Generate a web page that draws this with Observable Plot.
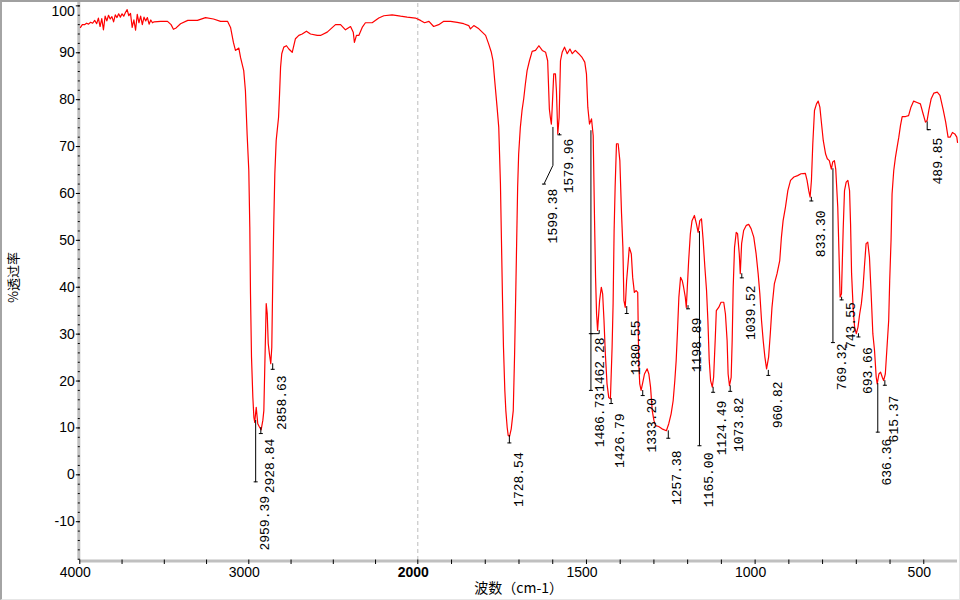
<!DOCTYPE html>
<html>
<head>
<meta charset="utf-8">
<script src="https://cdn.jsdelivr.net/npm/d3@7"></script>
<script src="https://cdn.jsdelivr.net/npm/@observablehq/plot@0.6"></script>
<style>
  html, body { margin: 0; padding: 0; background: #fff; }
  #wrap { position: relative; width: 960px; height: 600px; overflow: hidden; }
  #border { position: absolute; left: 0; top: 0; width: 960px; height: 600px; box-sizing: border-box;
            border-top: 2px solid #a0a0a0; border-left: 2px solid #a4a4a4;
            border-bottom: 1px solid #e6e6e6; border-right: 1px solid #e6e6e6; pointer-events: none; }
</style>
</head>
<body>
<div id="wrap"><div id="chart"></div><div id="border"></div></div>
<script>
// ---- Spectrum: [wavenumber (cm-1), transmittance (%)] ----
const spectrum = [
[3996,95.4],[3985,96.0],[3972,96.0],[3960,96.3],[3948,96.1],[3936,96.5],[3924,96.3],[3912,96.9],[3900,96.2],[3890,97.4],[3880,95.6],[3870,97.3],[3860,94.9],[3850,97.8],[3840,96.8],[3830,98.0],[3820,97.2],[3810,97.7],[3800,96.6],[3790,98.1],[3780,97.5],[3770,98.3],[3760,97.6],[3750,98.3],[3740,97.8],[3730,98.6],[3720,99.2],[3710,97.9],[3700,98.4],[3690,95.4],[3680,97.0],[3670,94.8],[3660,98.2],[3650,96.4],[3640,97.8],[3630,96.0],[3620,97.6],[3610,96.8],[3600,97.5],[3590,96.1],[3580,97.0],[3570,96.4],[3560,96.6],
[3522,96.7],[3481,96.7],[3460,96.0],[3446,95.0],[3430,95.3],[3404,96.2],[3361,96.9],[3304,96.9],[3256,97.5],[3209,97.2],[3167,96.7],[3126,96.7],[3108,95.4],[3091,92.2],[3079,90.5],[3059,91.0],[3049,89.0],[3030,86.2],[3020,81.9],[3010,72.7],[3000,64.9],[2994,52.8],[2990,38.6],[2984,25.1],[2976,16.5],[2970,12.3],[2965,11.2],[2956,14.4],[2947,10.9],[2937,10.2],[2927,9.6],[2917,11.6],[2911,13.7],[2905,23.7],[2900,31.5],[2897,36.5],[2891,34.4],[2885,28.0],[2878,25.8],[2870,23.7],[2864,27.2],[2858,42.1],[2852,54.2],[2846,64.2],[2838,71.3],[2832,73.4],[2824,76.2],[2818,81.2],[2812,86.9],[2805,89.8],[2793,91.2],[2777,91.5],[2763,90.8],[2743,90.1],[2724,93.0],[2704,93.7],[2684,94.0],[2659,94.6],[2635,94.0],[2595,93.7],[2576,93.7],[2536,94.4],[2487,96.0],[2457,96.0],[2428,94.9],[2398,95.6],[2382,94.4],[2375,92.2],[2363,93.7],[2349,93.7],[2329,95.4],[2310,96.4],[2270,96.4],[2231,97.4],[2201,97.9],[2152,98.1],[2102,97.8],[2063,97.6],[2014,97.4],
[1992,96.9],[1980,96.4],[1967,96.7],[1953,95.6],[1938,96.0],[1923,96.7],[1903,96.7],[1883,96.5],[1864,96.2],[1849,95.8],[1844,95.1],[1834,95.8],[1819,95.1],[1809,94.4],[1799,93.7],[1790,91.9],[1782,90.1],[1777,88.3],[1772,84.1],[1765,78.4],[1760,74.1],[1755,62.0],[1752,50.0],[1749,37.9],[1746,27.2],[1742,18.0],[1739,13.7],[1735,10.1],[1732,8.4],[1728,8.2],[1723,9.8],[1717,13.7],[1713,25.8],[1710,37.2],[1707,49.3],[1704,61.3],[1701,68.4],[1696,74.1],[1691,77.7],[1686,80.2],[1681,83.4],[1676,86.2],[1669,88.3],[1661,90.3],[1651,90.5],[1641,91.5],[1631,90.5],[1621,90.1],[1615,88.3],[1610,78.0],[1607,76.2],[1604,74.8],[1601,79.1],[1597,85.5],[1592,85.5],[1589,81.9],[1585,72.7],[1581,76.2],[1577,88.3],[1572,90.1],[1565,91.2],[1557,89.8],[1549,90.8],[1542,89.8],[1533,90.5],[1523,89.8],[1513,89.0],[1505,88.0],[1500,85.5],[1496,78.4],[1491,74.8],[1485,75.9],[1480,72.3],[1476,54.2],[1473,42.1],[1470,34.3],[1467,30.8],[1461,37.2],[1456,40.0],[1452,38.6],[1448,32.9],[1444,25.8],[1439,19.4],[1434,16.5],[1429,16.2],[1424,27.2],[1421,36.5],[1418,52.1],[1415,61.3],[1411,70.6],[1406,70.6],[1401,67.0],[1396,55.7],[1392,48.5],[1389,37.2],[1385,35.7],[1381,41.4],[1376,45.7],[1373,48.5],[1367,47.1],[1363,42.1],[1358,38.9],[1353,39.3],[1348,38.9],[1345,23.7],[1342,19.4],[1338,18.0],[1333,19.7],[1328,21.5],[1320,22.6],[1315,21.5],[1310,18.7],[1305,13.7],[1300,11.6],[1295,10.5],[1286,10.3],[1276,9.8],[1263,9.4],[1256,10.9],[1249,13.0],[1243,15.8],[1238,20.1],[1234,24.4],[1230,30.8],[1226,37.9],[1221,42.1],[1216,41.4],[1212,40.0],[1207,37.9],[1204,35.7],[1197,45.7],[1192,51.4],[1187,54.2],[1180,55.3],[1174,53.5],[1169,51.7],[1164,54.2],[1159,54.6],[1154,50.0],[1149,44.3],[1144,39.3],[1140,32.9],[1136,24.4],[1132,20.1],[1127,18.7],[1123,20.8],[1118,29.3],[1115,35.0],[1108,35.7],[1101,36.8],[1093,36.8],[1088,34.3],[1083,28.6],[1080,21.5],[1076,19.0],[1071,20.8],[1068,28.6],[1065,40.0],[1061,48.5],[1056,51.7],[1052,51.4],[1047,47.1],[1044,42.9],[1040,49.3],[1034,52.1],[1026,53.2],[1019,53.4],[1012,52.5],[1004,50.7],[997,47.1],[991,42.9],[986,38.6],[981,32.9],[976,28.6],[971,25.1],[966,22.6],[960,25.1],[955,30.1],[950,35.7],[943,40.7],[935,42.9],[927,45.7],[922,50.7],[917,54.2],[910,57.1],[903,60.6],[895,62.8],[885,63.5],[874,63.8],[864,64.2],[851,64.3],[846,62.8],[841,60.6],[837,59.2],[833,62.8],[829,70.6],[824,77.7],[818,79.1],[813,79.7],[808,78.4],[803,74.8],[798,71.3],[791,68.4],[786,67.4],[780,67.0],[774,65.2],[770,66.7],[765,67.0],[761,65.2],[755,57.1],[751,46.4],[748,37.9],[744,38.6],[739,52.1],[735,60.6],[730,62.4],[725,62.8],[720,60.6],[717,53.5],[714,42.9],[709,35.0],[705,31.5],[700,30.1],[695,31.5],[690,34.3],[685,36.5],[680,40.0],[676,44.3],[671,49.3],[666,49.6],[661,46.4],[656,38.6],[651,30.1],[646,26.5],[641,20.8],[638,19.4],[633,21.5],[628,21.9],[623,20.8],[619,20.1],[614,21.5],[609,27.2],[604,32.9],[601,41.4],[597,50.0],[594,59.9],[589,64.9],[584,67.7],[579,69.9],[574,72.0],[569,74.5],[564,76.4],[554,76.4],[545,76.6],[538,78.4],[530,79.7],[520,79.4],[510,79.1],[502,77.0],[495,75.2],[490,75.6],[485,77.7],[478,80.2],[470,81.4],[460,81.6],[452,80.9],[442,77.7],[435,75.2],[428,72.0],[422,72.0],[415,73.0],[408,72.7],[402,72.0],[400,70.9]
];

// ---- Peak annotations ----
const peakLabels = ["2959.39","2928.84","2858.63","1728.54","1599.38","1579.96","1486.73","1462.28","1426.79","1380.55","1333.20","1257.38","1198.89","1165.00","1124.49","1073.82","1039.52","960.82","833.30","769.32","743.55","693.66","636.36","615.37","489.85"];
const peakWn     = [2959.39,2928.84,2858.63,1728.54,1599.38,1579.96,1486.73,1462.28,1426.79,1380.55,1333.20,1257.38,1198.89,1165.00,1124.49,1073.82,1039.52,960.82,833.30,769.32,743.55,693.66,636.36,615.37,489.85];
// transmittance where the leader starts (at the peak)
const peakTip    = [11.6,10.1,23.7,8.4,74.1,72.8,73.4,30.8,16.3,35.9,18.0,9.4,36.1,51.9,18.7,19.0,42.9,22.3,59.2,65.3,37.9,30.1,19.5,20.1,75.3];
// transmittance where the leader bends (same as end for straight leaders)
const peakKnee   = [-1.5,8.8,22.5,6.8,66.0,72.5,18.0,30.1,15.2,34.4,16.9,7.8,35.4,6.2,17.6,17.8,42.0,21.2,58.4,28.2,37.3,29.4,9.1,19.1,73.6];
// wavenumber where the label sits
const labelWn    = [2959.39,2928.84,2858.63,1728.54,1626,1579.96,1486.73,1487,1426.79,1380.55,1333.20,1257.38,1198.89,1165.00,1124.49,1073.82,1039.52,960.82,833.30,769.32,743.55,693.66,636.36,615.37,485];
// transmittance of the leader end (dash)
const labelDashT = [-1.5,8.8,22.5,6.8,62.0,72.5,18.0,30.1,15.2,34.4,16.9,7.8,35.4,6.2,17.6,17.8,42.0,21.2,58.4,28.2,37.3,29.4,9.1,19.1,73.6];
// transmittance at the top of the label text
const labelTopT  = [-4.5,7.7,21.2,4.8,61.0,71.7,17.5,29.3,13.1,32.9,16.4,5.2,33.5,4.75,15.8,16.5,40.4,19.9,56.4,28.0,36.8,27.2,7.7,16.9,71.9];

// ---- Axes ----
const xDomain = [4000, 2000, 400];        // compressed scale below 2000 cm-1
const yDomain = [-18.27, 100.72];
const xTickLabels = [4000, 3000, 2000, 1500, 1000, 500];
const xTicks = [4000,3750,3500,3250,3000,2750,2500,2250,2000,1900,1800,1700,1600,1500,1400,1300,1200,1100,1000,900,800,700,600,500];
const yTickLabels = [-10,0,10,20,30,40,50,60,70,80,90,100];
const yMinorTicks = d3.range(-18, 101, 2);
const xTitle = "波数（cm-1）";
const yTitle = "%透过率";

const data = spectrum.map(([wn, t]) => ({wn, t}));
const peaks = peakWn.map((wn, i) => ({
  wn, label: peakLabels[i], tip: peakTip[i], knee: peakKnee[i], lx: labelWn[i], dash: labelDashT[i], top: labelTopT[i]
}));
const leaders = peaks.flatMap((p, i) => [
  {i, x: p.wn, y: p.tip}, {i, x: p.wn, y: p.knee}, {i, x: p.lx, y: p.dash}
]);

const hDash = {draw(ctx) { ctx.moveTo(-2, 0); ctx.lineTo(2, 0); }};
const xTickSym = {draw(ctx) { ctx.moveTo(0, -1); ctx.lineTo(0, 3.5); }};
const yMinorSym = {draw(ctx) { ctx.moveTo(-2, 0); ctx.lineTo(0, 0); }};
const yMajorSym = {draw(ctx) { ctx.moveTo(-4, 0); ctx.lineTo(0, 0); }};

const chart = Plot.plot({
  width: 960,
  height: 600,
  marginLeft: 79.3,
  marginRight: 3,
  marginTop: 2,
  marginBottom: 40,
  style: {background: "white", fontFamily: "Liberation Sans, sans-serif", overflow: "visible"},
  x: {type: "linear", domain: xDomain, range: [79.3, 417.3, 957], axis: null},
  y: {domain: yDomain, axis: null},
  marks: [
    // dashed line at 2000
    Plot.ruleX([2000], {y1: yDomain[0], y2: yDomain[1], stroke: "#bdbdbd", strokeDasharray: "4,3", strokeWidth: 1}),
    // axis bars
    Plot.ruleX([xDomain[0]], {y1: yDomain[0], y2: yDomain[1], stroke: "#c0c0c0", strokeWidth: 3, dx: -1}),
    Plot.ruleY([yDomain[0]], {x1: xDomain[0], x2: xDomain[2], stroke: "#c0c0c0", strokeWidth: 3, dy: 0.5}),
    // x ticks
    Plot.dot(xTicks, {x: d => d, y: yDomain[0], symbol: xTickSym, stroke: "black", fill: "none", strokeWidth: 1}),
    // y ticks
    Plot.dot(yMinorTicks, {x: xDomain[0], y: d => d, symbol: yMinorSym, stroke: "black", fill: "none", strokeWidth: 1}),
    Plot.dot(yTickLabels, {x: xDomain[0], y: d => d, symbol: yMajorSym, stroke: "black", fill: "none", strokeWidth: 1}),
    // x tick labels
    Plot.text(xTickLabels.filter(d => d !== 2000), {x: d => d, y: yDomain[0], text: d => String(d), dy: 12, dx: -4.5, fontSize: 14, fill: "black"}),
    Plot.text(xTickLabels.filter(d => d === 2000), {x: d => d, y: yDomain[0], text: d => String(d), dy: 12, dx: -4.5, fontSize: 14, fontWeight: "bold", fill: "black"}),
    // y tick labels
    Plot.text(yTickLabels.filter(d => d !== 100), {x: xDomain[0], y: d => d, text: d => String(d), textAnchor: "end", dx: -5, fontSize: 14, fill: "black"}),
    Plot.text(yTickLabels.filter(d => d === 100), {x: xDomain[0], y: d => d, text: d => String(d), textAnchor: "end", dx: -5, dy: 5.5, fontSize: 14, fill: "black"}),
    // axis titles
    Plot.text([xTitle], {frameAnchor: "bottom", textAnchor: "middle", lineAnchor: "middle", dy: 28, fontSize: 14, fontFamily: "Noto Sans CJK SC", fill: "black"}),
    Plot.text([yTitle], {frameAnchor: "left", textAnchor: "middle", lineAnchor: "middle", rotate: -90, dx: -66, dy: -4, fontSize: 13, fontFamily: "Noto Sans CJK SC", fill: "black"}),
    // spectrum
    Plot.line(data, {x: "wn", y: "t", stroke: "#ff0000", strokeWidth: 1.2}),
    // peak leaders
    Plot.line(leaders, {x: "x", y: "y", z: "i", stroke: "black", strokeWidth: 1}),
    Plot.dot(peaks, {x: "lx", y: "dash", symbol: hDash, stroke: "black", fill: "none", strokeWidth: 1}),
    Plot.text(peaks, {x: "lx", y: "top", text: "label", rotate: -90, textAnchor: "end", dx: 9,
                      fontFamily: "Liberation Mono, monospace", fontSize: 13, fill: "black"})
  ]
});
document.getElementById("chart").appendChild(chart);
</script>
</body>
</html>
